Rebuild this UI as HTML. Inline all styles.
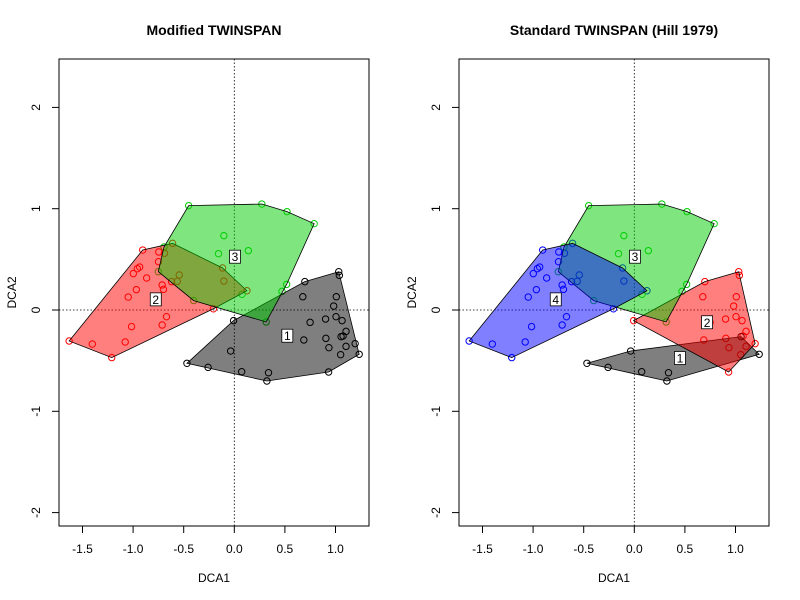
<!DOCTYPE html>
<html><head><meta charset="utf-8"><style>
html,body{margin:0;padding:0;background:#fff;}
svg{display:block;font-family:"Liberation Sans",sans-serif;}
</style></head><body>
<svg id="chart" width="800" height="600" viewBox="0 0 800 600"></svg>
<script>
const xs=[-1.632,-1.403,-1.211,-1.078,-1.015,-0.713,-0.670,-0.206,-0.116,-1.048,-0.968,-0.700,-0.713,-0.998,-0.958,-0.935,-0.866,-0.905,-0.746,-0.749,-0.690,-0.610,-0.620,-0.564,-0.544,-0.103,0.125,
-0.451,0.272,0.521,0.789,-0.103,0.139,-0.156,-0.401,0.076,0.471,0.517,0.315,-0.751,-0.695,
-0.468,-0.259,0.073,0.338,0.322,0.932,1.234,1.194,1.032,1.038,0.697,0.677,1.008,0.982,1.005,1.065,0.749,0.902,1.104,1.075,1.055,0.905,0.935,1.104,1.051,0.687,-0.036,-0.007];
const ys=[-0.306,-0.336,-0.470,-0.316,-0.164,-0.148,-0.066,0.012,0.415,0.128,0.201,0.204,0.247,0.359,0.408,0.424,0.316,0.592,0.573,0.477,0.560,0.658,0.280,0.283,0.346,0.286,0.190,
1.030,1.046,0.971,0.852,0.734,0.586,0.556,0.093,0.155,0.184,0.253,-0.118,0.378,0.622,
-0.526,-0.566,-0.609,-0.619,-0.701,-0.612,-0.437,-0.332,0.378,0.342,0.280,0.131,0.131,0.039,-0.066,-0.105,-0.122,-0.089,-0.211,-0.257,-0.263,-0.280,-0.372,-0.359,-0.441,-0.296,-0.405,-0.105];
const groupLeft=[2,2,2,2,2,2,2,2,2,2,2,2,2,2,2,2,2,2,2,2,2,2,2,2,2,2,2,
3,3,3,3,3,3,3,3,3,3,3,3,3,3,
1,1,1,1,1,1,1,1,1,1,1,1,1,1,1,1,1,1,1,1,1,1,1,1,1,1,1,1];
const groupRight=[4,4,4,4,4,4,4,4,4,4,4,4,4,4,4,4,4,4,4,4,4,4,4,4,4,4,4,
3,3,3,3,3,3,3,3,3,3,3,3,3,3,
1,1,1,1,1,2,1,2,2,2,2,2,2,2,2,2,2,2,2,2,1,2,2,2,2,2,1,2];
const labelsLeft=[1,2,3];
const labelLeftX=[0.524,-0.776,0.007];
const labelLeftY=[-0.254,0.105,0.526];
const labelsRight=[1,2,3,4];
const labelRightX=[0.451,0.719,0.007,-0.776];
const labelRightY=[-0.474,-0.121,0.526,0.105];
const xTicks=[-1.5,-1.0,-0.5,0.0,0.5,1.0];
const xTickLabels=["-1.5","-1.0","-0.5","0.0","0.5","1.0"];
const yTicks=[-2,-1,0,1,2];
const yTickLabels=["-2","-1","0","1","2"];

const NS="http://www.w3.org/2000/svg";
const svg=document.getElementById('chart');
const stroke={1:'#000',2:'#ff0000',3:'#00cd00',4:'#0000ff'};
const fill={1:'rgba(0,0,0,0.5)',2:'rgba(255,0,0,0.5)',3:'rgba(0,205,0,0.5)',4:'rgba(0,0,255,0.5)'};
function mk(tag,attrs,parent){const e=document.createElementNS(NS,tag);for(const k in attrs)e.setAttribute(k,attrs[k]);(parent||svg).appendChild(e);return e;}
function hull(pts){pts=pts.slice().sort((a,b)=>a[0]-b[0]||a[1]-b[1]);const cr=(o,a,b)=>(a[0]-o[0])*(b[1]-o[1])-(a[1]-o[1])*(b[0]-o[0]);const lo=[],up=[];for(const p of pts){while(lo.length>=2&&cr(lo[lo.length-2],lo[lo.length-1],p)<=0)lo.pop();lo.push(p);}for(let i=pts.length-1;i>=0;i--){const p=pts[i];while(up.length>=2&&cr(up[up.length-2],up[up.length-1],p)<=0)up.pop();up.push(p);}up.pop();lo.pop();return lo.concat(up);}

function panel(off,title,groups,labs,lx,ly,key){
  const L=59+off,R=369+off,T=59,B=526;
  const sx=v=>234.3+off+v*101.2;
  const sy=v=>310-v*101.3;
  const g=mk('g',{});
  
  
  const t=mk('text',{x:(L+R)/2,y:35,'text-anchor':'middle','font-size':14,'font-weight':'bold',fill:'#000'},g);
  t.textContent=title;
  
  
  const dv=mk('line',{x1:sx(0),x2:sx(0),y1:T,y2:B,stroke:'#000','stroke-width':0.8,'stroke-dasharray':'1.5,2'},g);
  
  
  const dh=mk('line',{x1:L,x2:R,y1:sy(0),y2:sy(0),stroke:'#000','stroke-width':0.8,'stroke-dasharray':'1.5,2'},g);
  
  
  for(let i=0;i<xs.length;i++){
    const c=mk('circle',{cx:sx(xs[i]),cy:sy(ys[i]),r:3.2,fill:'none',stroke:stroke[groups[i]],'stroke-width':1},g);
    
    
  }
  const ids=[...new Set(groups)].sort();
  for(const k of ids){
    const pts=[];for(let i=0;i<xs.length;i++)if(groups[i]===k)pts.push([sx(xs[i]),sy(ys[i])]);
    const h=hull(pts);
    const p=mk('polygon',{points:h.map(q=>q.join(',')).join(' '),fill:fill[k],stroke:'#000','stroke-width':0.8},g);
    
    
  }
  for(let i=0;i<labs.length;i++){
    const x=sx(lx[i]),y=sy(ly[i]);
    const r=mk('rect',{x:x-5.5,y:y-6.5,width:11,height:13,fill:'#fff',stroke:'#000','stroke-width':0.8},g);
    
    
    const tx=mk('text',{x:x,y:y+4.5,'text-anchor':'middle','font-size':12,fill:'#000'},g);
    tx.textContent=labs[i];
    
    
  }
  const box=mk('rect',{x:L,y:T,width:R-L,height:B-T,fill:'none',stroke:'#000','stroke-width':1},g);
  
  
  for(let i=0;i<xTicks.length;i++){
    const x=sx(xTicks[i]);
    const tl=mk('line',{x1:x,x2:x,y1:B,y2:B+7,stroke:'#000'},g);
    
    
    const tt=mk('text',{x:x,y:553,'text-anchor':'middle','font-size':12,fill:'#000'},g);
    tt.textContent=xTickLabels[i];
    
    
  }
  for(let i=0;i<yTicks.length;i++){
    const y=sy(yTicks[i]);
    const tl=mk('line',{x1:L-7,x2:L,y1:y,y2:y,stroke:'#000'},g);
    
    
    const tt=mk('text',{x:0,y:0,'text-anchor':'middle','font-size':12,fill:'#000',transform:`translate(${L-19},${y}) rotate(-90)`},g);
    tt.textContent=yTickLabels[i];
    
    
  }
  const xa=mk('text',{x:(L+R)/2,y:582,'text-anchor':'middle','font-size':12,fill:'#000'},g);
  xa.textContent='DCA1';
  
  
  const ya=mk('text',{x:0,y:0,'text-anchor':'middle','font-size':12,fill:'#000',transform:`translate(${L-43},${(T+B)/2}) rotate(-90)`},g);
  ya.textContent='DCA2';
  
  
}
panel(0,'Modified TWINSPAN',groupLeft,labelsLeft,labelLeftX,labelLeftY,'modified');
panel(400,'Standard TWINSPAN (Hill 1979)',groupRight,labelsRight,labelRightX,labelRightY,'standard');
</script>
</body></html>
